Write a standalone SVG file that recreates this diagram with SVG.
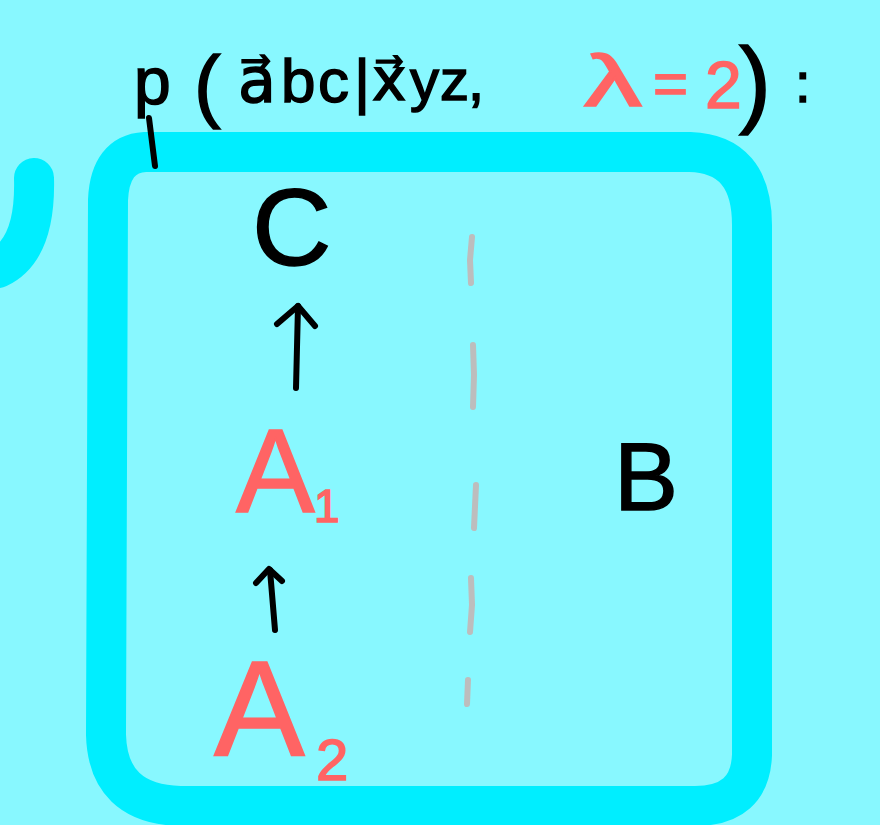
<svg xmlns="http://www.w3.org/2000/svg" width="880" height="825" viewBox="0 0 880 825">
  <style>
    .ink { fill: #000; stroke: #000; stroke-width: 1.5; font-family: "Liberation Sans", "DejaVu Sans", sans-serif; }
    .red { fill: #FF6464; stroke: #FF6464; stroke-width: 1.5; font-family: "Liberation Sans", "DejaVu Sans", sans-serif; }
    .band { fill: none; stroke: #00EEFF; stroke-width: 40; stroke-linecap: round; stroke-linejoin: round; }
    .conn { fill: none; stroke: #000; stroke-width: 6; stroke-linecap: round; stroke-linejoin: round; }
    .dash { fill: none; stroke: #BDBDBD; stroke-width: 6; stroke-linecap: round; }
  </style>
  <rect x="0" y="0" width="880" height="825" fill="#88F8FF"/>

  <!-- stray stroke at left edge -->
  <path class="band" d="M -2 268 Q 36 250 34 178" stroke-width="46"/>

  <!-- container box -->
  <g id="box">
    <path class="band" d="M 145 152 L 690 152 Q 752 154 752 225 L 752 755 Q 750 806 695 806 L 180 806 Q 108 804 106 735 L 108 200 Q 110 154 145 152 Z"/>
  </g>

  <!-- title -->
  <g id="title">
    <text class="ink" font-size="66" y="104"><tspan x="134">p</tspan></text>
    <path class="conn" d="M 149 118 L 155 166" stroke-width="5"/>
    <text class="ink" font-size="80" x="194" y="112">(</text>
    <text class="ink" font-size="62" y="102"><tspan x="238">a&#x20D7;</tspan><tspan x="281">b</tspan><tspan x="318">c</tspan></text>
    <text class="ink" font-size="62" x="354" y="102">|</text>
    <text class="ink" font-size="58" x="372" y="100">x&#x20D7;</text>
    <text class="ink" font-size="58" y="100"><tspan x="410">y</tspan><tspan x="440">z</tspan><tspan x="468">,</tspan></text>
    <text class="red" font-size="72" x="584" y="106" stroke-width="2" textLength="58" lengthAdjust="spacingAndGlyphs">λ</text>
    <text class="red" font-size="60" x="653" y="104">=</text>
    <text class="red" font-size="66" x="705" y="108" stroke-width="2">2</text>
    <text class="ink" font-size="96" x="739" y="115">)</text>
    <text class="ink" font-size="56" x="795" y="102">:</text>
  </g>

  <!-- nodes -->
  <g id="node-C">
    <text class="ink" font-size="110" x="252" y="265">C</text>
  </g>
  <g id="node-A1">
    <text class="red" font-size="118" x="236" y="512">A</text>
    <text class="red" font-size="46" x="314" y="522">1</text>
  </g>
  <g id="node-A2">
    <text class="red" font-size="136" x="214" y="755">A</text>
    <text class="red" font-size="58" x="316" y="780">2</text>
  </g>
  <g id="node-B">
    <text class="ink" font-size="96" x="614" y="510">B</text>
  </g>

  <!-- divider -->
  <g id="divider">
    <path class="dash" d="M 472 237 L 470 260 L 471 283"/>
    <path class="dash" d="M 473 345 L 474 375 L 473 407"/>
    <path class="dash" d="M 476 485 L 474 528"/>
    <path class="dash" d="M 471 578 L 472 605 L 470 632"/>
    <path class="dash" d="M 468 680 L 467 704"/>
  </g>

  <!-- connectors -->
  <g id="connectors">
    <path class="conn" d="M 296 388 L 298 306"/>
    <path class="conn" d="M 277 324 L 298 306 L 315 326"/>
    <path class="conn" d="M 275 630 L 270 570"/>
    <path class="conn" d="M 256 583 L 269 569 L 282 581"/>
  </g>
</svg>
